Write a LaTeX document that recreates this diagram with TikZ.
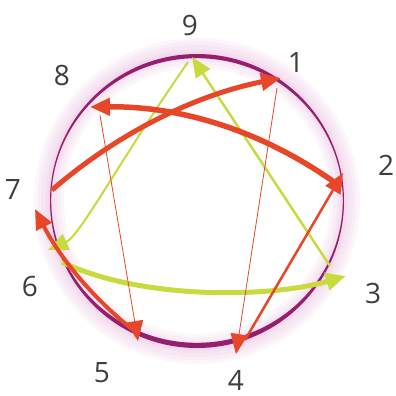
\documentclass[tikz,border=0pt]{standalone}
\usepackage{fontspec}
\setmainfont{Open Sans}
\usetikzlibrary{arrows.meta}

\definecolor{hexred}{RGB}{232,70,40}
\definecolor{trigreen}{RGB}{200,218,62}
\definecolor{ringpurple}{RGB}{150,30,110}
\definecolor{glowpink}{RGB}{220,140,200}
\definecolor{numgray}{RGB}{62,62,62}

\begin{document}
\begin{tikzpicture}[
    x=1pt, y=-1pt,
    num/.style={
        text=numgray,
        font=\fontsize{28}{28}\selectfont,
        inner sep=0pt
    },
    glow/.style={
        draw=glowpink,
        opacity=0.07
    },
    hexline/.style={
        draw=hexred,
        -{Triangle[length=20pt,width=17pt]}
    },
    triline/.style={
        draw=trigreen,
        -{Triangle[length=20pt,width=17pt]}
    }
]

    \useasboundingbox (0,0) rectangle (396,396);
    \fill[white] (0,0) rectangle (396,396);

    % Ring
    \coordinate (c) at (197,201);
    \draw[glow, line width=30pt] (c) circle[radius=148pt];
    \draw[glow, line width=23pt] (c) circle[radius=148pt];
    \draw[glow, line width=16pt] (c) circle[radius=148pt];
    \draw[glow, line width=10pt] (c) circle[radius=147pt];
    \draw[glow, line width=5pt] (c) circle[radius=147pt];
    \fill[ringpurple, even odd rule] (c) circle[radius=147pt]
        (197,200.5) ellipse[x radius=145.8pt, y radius=142.3pt];

    % Points
    \coordinate (p9) at (192,57);   \coordinate (q9) at (188,62);
    \coordinate (p1) at (281,78);   \coordinate (q1) at (277,88);
    \coordinate (p2) at (343,173);  \coordinate (q2) at (341,187);
    \coordinate (p3) at (346,276);  \coordinate (q3) at (330,266);
    \coordinate (p4) at (236,354);  \coordinate (q4) at (245,340);
    \coordinate (p5) at (138,341);  \coordinate (q5) at (137,333);
    \coordinate (p6) at (48,250);   \coordinate (q6) at (62,262);
    \coordinate (p7) at (35,209);   \coordinate (q7) at (52,190);
    \coordinate (p8) at (90,107);   \coordinate (q8) at (100,115);

    % Triangle 9-6-3
    \draw[triline, line width=2.5pt] (q3) -- (p9);
    \draw[triline, line width=2pt] (q9) .. controls (120,160) and (80,236) .. (p6);
    \draw[triline, line width=5pt] (q6) .. controls (140,300) and (270,298) .. (p3);

    % Hexad 1-4-2-8-5-7
    \draw[hexline, line width=0.8pt] (q1) -- (p4);
    \draw[hexline, line width=2.5pt] (q4) -- (p2);
    \draw[hexline, line width=5.5pt] (q2) .. controls (266,132) and (183,106) .. (p8);
    \draw[hexline, line width=0.8pt] (q8) -- (p5);
    \draw[hexline, line width=4pt] (q5) .. controls (94,300) and (60,258) .. (p7);
    \draw[hexline, line width=5pt] (q7) .. controls (118,133) and (195,95) .. (p1);

    % Numbers
    \node[num] (n9) at (190,25) {9};
    \node[num] (n1) at (296,63) {1};
    \node[num] (n2) at (386,165) {2};
    \node[num] (n3) at (373,293) {3};
    \node[num] (n4) at (236,380) {4};
    \node[num] (n5) at (102,373) {5};
    \node[num] (n6) at (30,286) {6};
    \node[num] (n7) at (13,190) {7};
    \node[num] (n8) at (62,75) {8};

\end{tikzpicture}
\end{document}
